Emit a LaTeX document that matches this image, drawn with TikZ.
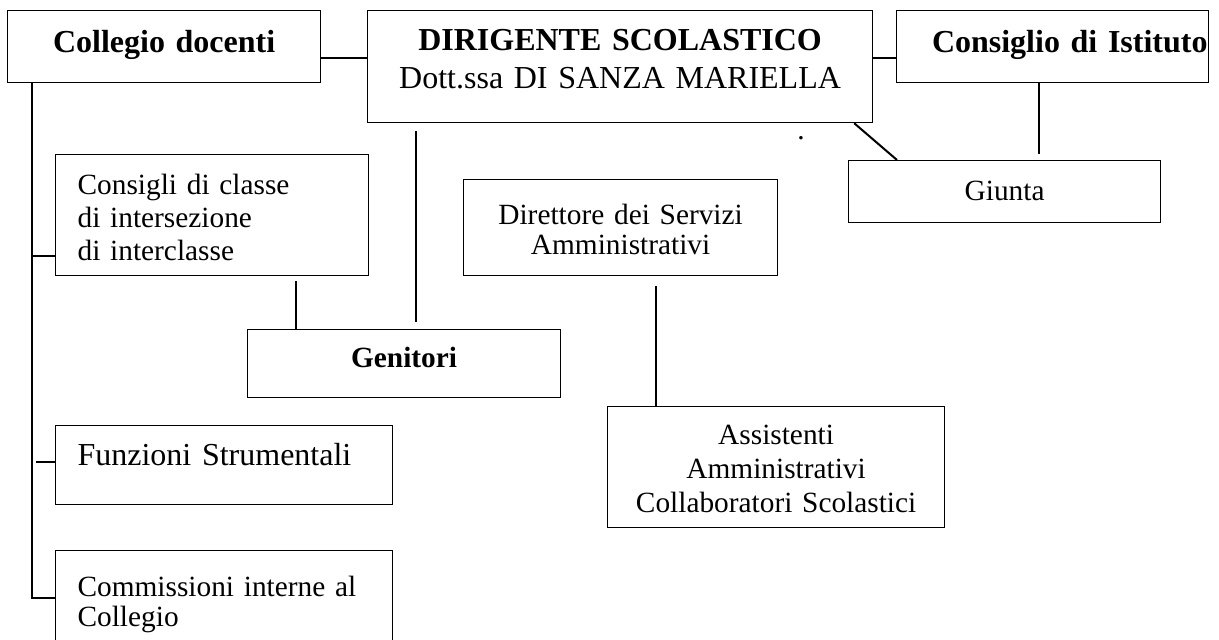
\documentclass[tikz,border=0pt]{standalone}
\usepackage{fontspec}
\setmainfont{Liberation Serif}
\newcommand{\bigsize}{\fontsize{16}{19}\selectfont}
\newcommand{\smallsize}{\fontsize{14.67}{17}\selectfont}

\begin{document}
\begin{tikzpicture}[x=0.5pt, y=-0.5pt,
    orgbox/.style={draw, line width=0.6pt, inner xsep=0pt, inner ysep=0pt, anchor=north west},
    link/.style={line width=1pt}]
    \useasboundingbox (0,0) rectangle (1219,639);
    %\draw[help lines, step=50] (0,0) grid (1219,639);

    % top row
    \node[orgbox, text width=156.5pt, align=center, text height=21pt, text depth=15pt,
        font=\bigsize\bfseries] (collegio) at (7,10) {Collegio docenti};
    \node[orgbox, text width=252.5pt, align=center, text height=20pt, text depth=36pt,
        font=\bigsize] (dirigente) at (367,10) {\textbf{DIRIGENTE SCOLASTICO}\\Dott.ssa DI SANZA MARIELLA};
    \node[orgbox, inner xsep=0.5pt, text width=155pt, align=right, text height=21pt, text depth=15pt,
        font=\bigsize\bfseries] (consiglio) at (896,10) {Consiglio di Istituto};

    % left column
    \node[orgbox, inner xsep=11pt, text width=134.5pt, align=left, text height=20pt, text depth=40.5pt,
        font=\fontsize{14.67}{16.5}\selectfont] (consigli) at (55,154) {Consigli di classe\\di intersezione\\di interclasse};
    \node[orgbox, inner xsep=11pt, text width=146.5pt, align=left, text height=20pt, text depth=19.5pt,
        font=\bigsize] (funzioni) at (55,425) {Funzioni Strumentali};
    \node[orgbox, inner xsep=11pt, text width=146.5pt, align=left, text height=23pt, text depth=60pt,
        font=\fontsize{14.67}{14.7}\selectfont] (commissioni) at (55,550) {Commissioni interne al\\Collegio};

    % middle and right
    \node[orgbox, text width=156.5pt, align=center, text height=19pt, text depth=15pt,
        font=\smallsize\bfseries] (genitori) at (247,329) {Genitori};
    \node[orgbox, text width=157pt, align=center, text height=22.5pt, text depth=25.5pt,
        font=\fontsize{14.67}{14.7}\selectfont] (direttore) at (463,179) {Direttore dei Servizi\\Amministrativi};
    \node[orgbox, text width=168.5pt, align=center, text height=19pt, text depth=41.5pt,
        font=\smallsize] (assistenti) at (607,406) {Assistenti\\Amministrativi\\Collaboratori Scolastici};
    \node[orgbox, text width=156pt, align=center, text height=20pt, text depth=11pt,
        font=\smallsize] (giunta) at (848,160) {Giunta};
    \node[inner sep=0pt, anchor=base, font=\smallsize] (dot) at (801,139) {.};

    % connectors
    \coordinate (trunk) at ([xshift=12.5pt]collegio.south west);
    \draw[link] ([yshift=12.5pt]collegio.south east) -- ([yshift=32.5pt]dirigente.south west);
    \draw[link] ([yshift=32.5pt]dirigente.south east) -- ([yshift=12.5pt]consiglio.south west);
    \draw[link, shorten >=3pt] ([xshift=71.5pt]consiglio.south west) -- ([xshift=95.5pt]giunta.north west);
    \draw[link] ([xshift=-9.5pt]dirigente.south east) -- ([xshift=24.5pt]giunta.north west);
    \draw[link, shorten <=4pt, shorten >=3.5pt] ([xshift=24.5pt]dirigente.south west) -- ([xshift=84.5pt]genitori.north west);
    \draw[link, shorten <=2.5pt] ([xshift=120.5pt]consigli.south west) -- ([xshift=24.5pt]genitori.north west);
    \draw[link, shorten <=5pt] ([xshift=96.5pt]direttore.south west) -- ([xshift=24.5pt]assistenti.north west);

    \draw[link] (trunk) |- ([yshift=-24pt]commissioni.north west);
    \draw[link] ([yshift=10pt]consigli.south west) coordinate (t1) -- (t1 -| trunk);
    \draw[link] ([yshift=1.75pt]funzioni.west) coordinate (t2) -- ([xshift=2pt]t2 -| trunk);
\end{tikzpicture}
\end{document}
